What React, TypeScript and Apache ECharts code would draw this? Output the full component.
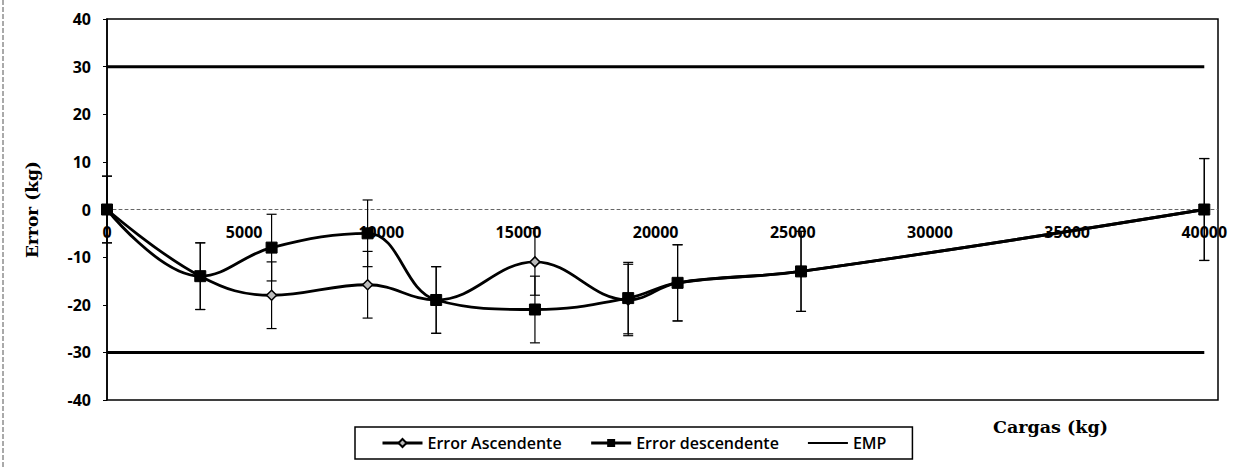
import React, { useEffect, useRef } from "react";
import * as echarts from "echarts";

const loads = [0, 3400, 6000, 9500, 12000, 15600, 19000, 20800, 25300, 40000];
const errorAsc = [0, -14, -18, -15.8, -19, -11, -19, -15.4, -13, 0];
const errorDesc = [0, -14, -8, -5, -19, -21, -18.6, -15.4, -13, 0];
const barAsc = [7, 7, 7, 7, 7, 7, 7.5, 8, 8.4, 10.7];
const barDesc = [7, 7, 7, 7, 7, 7, 7.5, 8, 8.4, 10.7];
const empUpper = [[0, 30], [40000, 30]];
const empLower = [[0, -30], [40000, -30]];
const yTicks = [-40, -30, -20, -10, 0, 10, 20, 30, 40];

export default function App() {
  const ref = useRef<HTMLDivElement>(null);
  useEffect(() => {
    if (!ref.current) return;
    const chart = echarts.init(ref.current, null, { renderer: "svg" });
    const bars: number[][] = [];
    loads.forEach((x, i) => {
      bars.push([x, errorAsc[i] - barAsc[i], errorAsc[i] + barAsc[i]]);
      bars.push([x, errorDesc[i] - barDesc[i], errorDesc[i] + barDesc[i]]);
    });
    const numFont = { fontFamily: "Open Sans", fontWeight: "bold" as const, fontSize: 16, color: "#000" };
    chart.setOption({
      animation: false,
      backgroundColor: "#fff",
      grid: {
        left: 107,
        right: 27,
        top: 19,
        bottom: 69,
        show: true,
        borderColor: "#000",
        borderWidth: 1.5,
      },
      xAxis: {
        type: "value",
        min: 0,
        max: 40500,
        interval: 5000,
        offset: -190.5,
        axisLine: { onZero: false, lineStyle: { color: "#666", type: [3, 3], width: 1 } },
        axisTick: { show: false },
        splitLine: { show: false },
        axisLabel: {
          ...numFont,
          margin: 14,
          showMaxLabel: true,
          formatter: (v: number) => (v % 5000 === 0 ? String(v) : ""),
        },
      },
      yAxis: {
        type: "value",
        min: yTicks[0],
        max: yTicks[yTicks.length - 1],
        interval: 10,
        name: "Error (kg)",
        nameLocation: "middle",
        nameRotate: 90,
        nameGap: 67,
        nameTextStyle: { fontFamily: "DejaVu Serif", fontWeight: "bold", fontSize: 17, color: "#000" },
        axisLine: { show: true, onZero: false, lineStyle: { color: "#000", width: 1.5 } },
        axisTick: { show: true, length: 4, lineStyle: { color: "#000" } },
        splitLine: { show: false },
        axisLabel: { ...numFont, margin: 16 },
      },
      legend: {
        data: [
          { name: "Error Ascendente", lineStyle: { width: 3 } },
          { name: "Error descendente", lineStyle: { width: 3 } },
          { name: "EMP", itemStyle: { opacity: 0 }, lineStyle: { width: 2 } },
        ],
        left: 355,
        top: 427,
        padding: [8, 26, 8, 26],
        borderColor: "#000",
        borderWidth: 1.5,
        itemWidth: 40,
        itemHeight: 10,
        itemGap: 28,
        textStyle: { fontFamily: "Open Sans", fontWeight: 600, fontSize: 16, color: "#000" },
      },
      graphic: [
        {
          type: "text",
          left: 993,
          top: 418,
          style: { text: "Cargas (kg)", fontFamily: "DejaVu Serif", fontWeight: "bold", fontSize: 17.5, fill: "#000" },
        },
        {
          type: "line",
          shape: { x1: 3, y1: 0, x2: 3, y2: 469 },
          style: { stroke: "#555", lineWidth: 1, lineDash: [5, 2] },
        },
      ],
      series: [
        {
          type: "custom",
          name: "bars",
          z: 1,
          silent: true,
          data: bars,
          renderItem: (params: any, api: any) => {
            const x = api.value(0);
            const lo = api.coord([x, api.value(1)]);
            const hi = api.coord([x, api.value(2)]);
            const w = 5;
            const style = { stroke: "#000", lineWidth: 1.2 };
            return {
              type: "group",
              children: [
                { type: "line", shape: { x1: lo[0], y1: lo[1], x2: hi[0], y2: hi[1] }, style },
                { type: "line", shape: { x1: lo[0] - w, y1: lo[1], x2: lo[0] + w, y2: lo[1] }, style },
                { type: "line", shape: { x1: hi[0] - w, y1: hi[1], x2: hi[0] + w, y2: hi[1] }, style },
              ],
            };
          },
        },
        {
          type: "line",
          name: "EMP",
          data: empUpper,
          symbol: "none",
          z: 3,
          lineStyle: { color: "#000", width: 3 },
          itemStyle: { color: "#000" },
        },
        {
          type: "line",
          name: "EMP",
          data: empLower,
          symbol: "none",
          z: 3,
          lineStyle: { color: "#000", width: 3 },
          itemStyle: { color: "#000" },
        },
        {
          type: "line",
          name: "Error Ascendente",
          data: loads.map((x, i) => [x, errorAsc[i]]),
          smooth: 0.4,
          symbol: "diamond",
          symbolSize: 10,
          z: 4,
          lineStyle: { color: "#000", width: 2.8 },
          itemStyle: { color: "#bbb", borderColor: "#000", borderWidth: 1.5 },
        },
        {
          type: "line",
          name: "Error descendente",
          data: loads.map((x, i) => [x, errorDesc[i]]),
          smooth: 0.4,
          symbol: "rect",
          symbolSize: 11,
          z: 5,
          lineStyle: { color: "#000", width: 2.8 },
          itemStyle: { color: "#000", borderColor: "#000" },
        },
      ],
    });
    return () => chart.dispose();
  }, []);
  return (
    <div
      ref={ref}
      style={{ position: "fixed", left: 0, top: 0, width: 1245, height: 469, background: "#fff" }}
    />
  );
}
